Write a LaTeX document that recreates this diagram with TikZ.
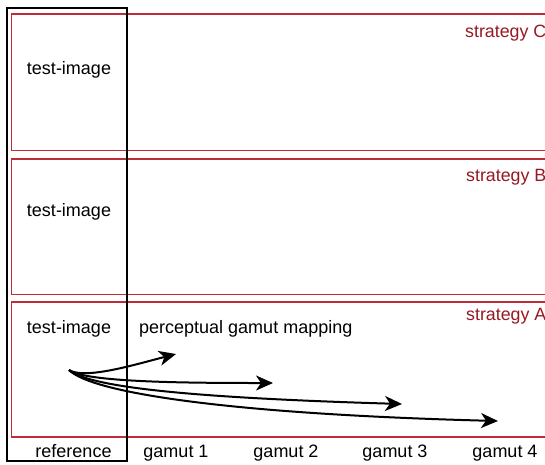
\documentclass[tikz,border=0pt]{standalone}
\usepackage{fontspec}
\setmainfont{Liberation Sans}
\usetikzlibrary{arrows.meta}
\definecolor{stratline}{RGB}{190,45,55}
\definecolor{strattext}{RGB}{150,25,35}
\tikzset{
  stratbox/.style={draw=stratline, line width=1.5pt},
  refbox/.style={draw=black, line width=1.6pt},
  lbl/.style={anchor=base, inner sep=0pt, font=\fontsize{18}{21}\selectfont},
  stratlbl/.style={anchor=base east, inner sep=0pt, text=strattext, font=\fontsize{17.8}{21}\selectfont},
  maparrow/.style={draw=black, line width=2pt, -{Stealth[length=17pt,width=15pt,inset=5pt]}}
}
\begin{document}
\begin{tikzpicture}[x=1pt,y=-1pt]
\useasboundingbox (0,0) rectangle (545,464);
\fill[white] (0,0) rectangle (545,464);
\clip (0,0) rectangle (545,464);
% strategy boxes
\draw[stratbox] (11.5,14) rectangle (560,150.5);
\draw[stratbox] (11.5,159) rectangle (560,294.5);
\draw[stratbox] (11.5,302) rectangle (560,437);
% reference column
\draw[refbox] (7,8) rectangle (127,461);
% labels
\node[stratlbl] (sc) at (546.5,37) {strategy C};
\node[stratlbl] (sb) at (546.5,181) {strategy B};
\node[stratlbl] (sa) at (546.5,320) {strategy A};
\node[lbl] (tc) at (69,74) {test-image};
\node[lbl] (tb) at (69,216) {test-image};
\node[lbl] (ta) at (69,333) {test-image};
\node[lbl, anchor=base west] (pgm) at (139,333) {perceptual gamut mapping};
\node[lbl] (ref) at (73.5,457) {reference};
\node[lbl] (g1) at (176,457) {gamut 1};
\node[lbl] (g2) at (286,457) {gamut 2};
\node[lbl] (g3) at (395,457) {gamut 3};
\node[lbl] (g4) at (505,457) {gamut 4};
% arrows
\coordinate (o) at (69,370);
\coordinate (e1) at (176,354);
\coordinate (e2) at (273,383);
\coordinate (e3) at (402,404);
\coordinate (e4) at (498,421);
\draw[maparrow] (o) .. controls (85,380) and (137,364) .. (e1);
\draw[maparrow] (o) .. controls (85,382) and (180,383) .. (e2);
\draw[maparrow] (o) .. controls (90,388) and (200,398) .. (e3);
\draw[maparrow] (o) .. controls (92,393) and (230,414) .. (e4);
\end{tikzpicture}
\end{document}
